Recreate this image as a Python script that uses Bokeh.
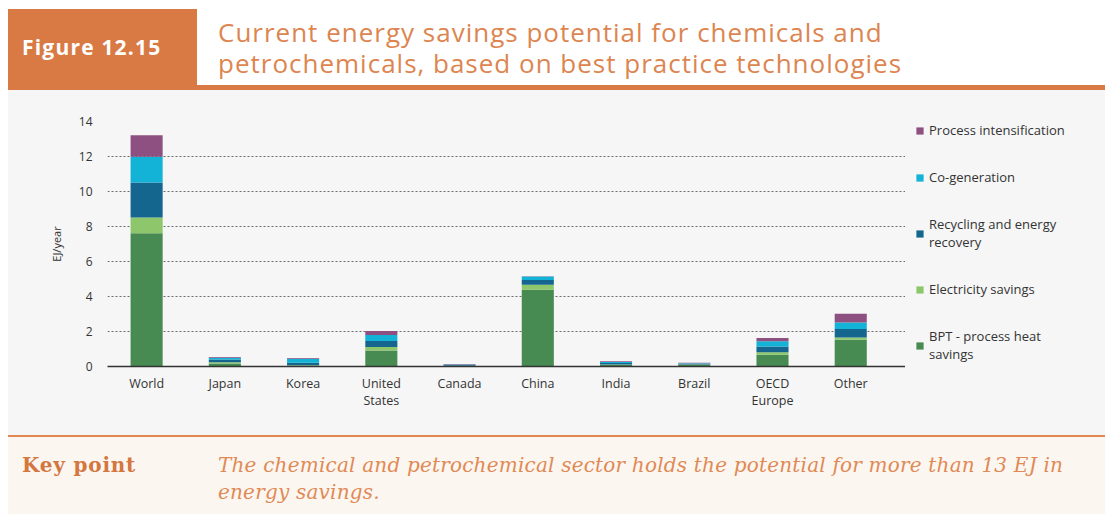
from bokeh.plotting import figure
from bokeh.models import ColumnDataSource, Range1d, FixedTicker, Legend, LegendItem, Div
from bokeh.layouts import column, row
from bokeh.embed import file_html
from bokeh.resources import INLINE

# ---- data (EJ/year) ----
regions = ["World", "Japan", "Korea", "United\nStates", "Canada", "China",
           "India", "Brazil", "OECD\nEurope", "Other"]
bpt_heat = [7.62, 0.17, 0.05, 0.91, 0.03, 4.38, 0.10, 0.10, 0.67, 1.53]
electricity = [0.89, 0.08, 0.02, 0.21, 0.01, 0.29, 0.02, 0.02, 0.15, 0.13]
recycling = [2.00, 0.15, 0.15, 0.34, 0.04, 0.27, 0.08, 0.04, 0.33, 0.48]
cogeneration = [1.47, 0.10, 0.22, 0.34, 0.03, 0.20, 0.06, 0.02, 0.29, 0.38]
process_int = [1.24, 0.05, 0.05, 0.23, 0.04, 0.02, 0.04, 0.04, 0.19, 0.50]

series_keys = ["bpt", "elec", "recyc", "cogen", "proc"]
series_labels = ["BPT - process heat\nsavings", "Electricity savings",
                 "Recycling and energy\nrecovery", "Co-generation",
                 "Process intensification"]
colors = ["#478a52", "#8dc66b", "#15668f", "#12b3d6", "#8e5080"]
y_ticks = [0, 2, 4, 6, 8, 10, 12, 14]

source = ColumnDataSource(dict(
    x=list(range(len(regions))),
    bpt=bpt_heat, elec=electricity, recyc=recycling,
    cogen=cogeneration, proc=process_int,
))

W = 1097
PW = 897
LW = W - PW
H = 345
BG = "#f6f6f6"
ORANGE = "#d97a44"
FONT = "Open Sans"

p = figure(width=PW, height=H, x_range=Range1d(-0.5, 9.7), y_range=Range1d(0, 14),
           output_backend="svg", toolbar_location=None,
           min_border_left=99, min_border_right=0, min_border_top=31, min_border_bottom=69,
           background_fill_color=BG, border_fill_color=BG, outline_line_color=None)

renderers = p.vbar_stack(series_keys, x="x", width=0.41, source=source,
                         fill_color=colors, line_color=None)

# axes
p.xaxis.ticker = FixedTicker(ticks=list(range(len(regions))))
p.xaxis.major_label_overrides = {i: r for i, r in enumerate(regions)}
p.xaxis.axis_line_color = "#333333"
p.xaxis.axis_line_width = 1.5
p.xaxis.major_tick_line_color = None
p.xaxis.minor_tick_line_color = None
p.xaxis.major_label_standoff = 2
p.xaxis.major_label_text_font = FONT
p.xaxis.major_label_text_font_size = "12.5px"
p.xaxis.major_label_text_color = "#333333"
p.xaxis.major_label_text_line_height = 1.05

p.yaxis.ticker = FixedTicker(ticks=y_ticks)
p.yaxis.axis_line_color = None
p.yaxis.major_tick_line_color = None
p.yaxis.minor_tick_line_color = None
p.yaxis.major_label_standoff = 9
p.yaxis.major_label_text_font = FONT
p.yaxis.major_label_text_font_size = "12px"
p.yaxis.major_label_text_color = "#333333"
p.yaxis.axis_label = "EJ/year"
p.yaxis.axis_label_text_font = FONT
p.yaxis.axis_label_text_font_size = "11px"
p.yaxis.axis_label_text_font_style = "normal"
p.yaxis.axis_label_text_color = "#333333"
p.yaxis.axis_label_standoff = 12

p.xgrid.grid_line_color = None
p.ygrid.grid_line_color = "#6a6a6a"
p.ygrid.grid_line_dash = "2 2"
p.ygrid.grid_line_width = 1

# legend panel: an axis-less figure whose (hidden) stacked renderers supply the swatches
lf = figure(width=LW, height=H, x_range=Range1d(-0.5, 9.7), y_range=Range1d(0, 14),
            x_axis_type=None, y_axis_type=None, output_backend="svg", toolbar_location=None,
            min_border_left=10, min_border_top=31, min_border_right=0, min_border_bottom=69,
            background_fill_color=BG, border_fill_color=BG, outline_line_color=None)
lf.xgrid.visible = False
lf.ygrid.visible = False
swatches = lf.vbar_stack(series_keys, x="x", width=0.41, source=source,
                         fill_color=colors, line_color=None)
for r in swatches:
    r.visible = False
items = [LegendItem(label=series_labels[i], renderers=[swatches[i]]) for i in range(4, -1, -1)]
legend = Legend(items=items, location="top_left", orientation="vertical",
                glyph_width=9, glyph_height=9, label_height=18, spacing=29,
                padding=0, margin=0, label_standoff=5,
                border_line_color=None, background_fill_alpha=0,
                label_text_font=FONT, label_text_font_size="13px",
                label_text_color="#333333", label_text_line_height=1.05)
lf.add_layout(legend)

header = Div(width=W, height=82, margin=0, text=f"""
<div style="position:relative;width:{W}px;height:82px;background:#ffffff;overflow:hidden;">
  <div style="position:absolute;left:0;top:1px;width:189px;height:81px;background:{ORANGE};"></div>
  <div style="position:absolute;left:14px;top:25px;color:#ffffff;font-family:'{FONT}';font-weight:bold;font-size:21px;letter-spacing:1.2px;line-height:28px;white-space:nowrap;">Figure 12.15</div>
  <div style="position:absolute;left:189px;top:77px;width:{W-189}px;height:5px;background:{ORANGE};"></div>
  <div style="position:absolute;left:210px;top:9px;color:#dd8550;font-family:'{FONT}';font-size:26px;letter-spacing:1.0px;line-height:31px;white-space:nowrap;">Current energy savings potential for chemicals and<br>petrochemicals, based on best practice technologies</div>
</div>""")

footer = Div(width=W, height=79, margin=0, text=f"""
<div style="position:relative;width:{W}px;height:79px;background:#fcf6f1;border-top:2px solid #e0884f;box-sizing:border-box;overflow:hidden;">
  <div style="position:absolute;left:14px;top:15px;color:#d4773f;font-family:'DejaVu Serif';font-weight:bold;font-size:20px;letter-spacing:0.8px;line-height:27px;white-space:nowrap;">Key point</div>
  <div style="position:absolute;left:210px;top:15px;color:#e08a55;font-family:'DejaVu Serif';font-style:italic;font-size:20px;letter-spacing:0.2px;line-height:27px;white-space:nowrap;">The chemical and petrochemical sector holds the potential for more than 13 EJ in<br>energy savings.</div>
</div>""")

mid = row(p, lf, spacing=0, styles={"background-color": BG})
layout = column(header, mid, footer, spacing=0, margin=(8, 0, 0, 8))
open("out.html", "w").write(file_html(layout, INLINE))
